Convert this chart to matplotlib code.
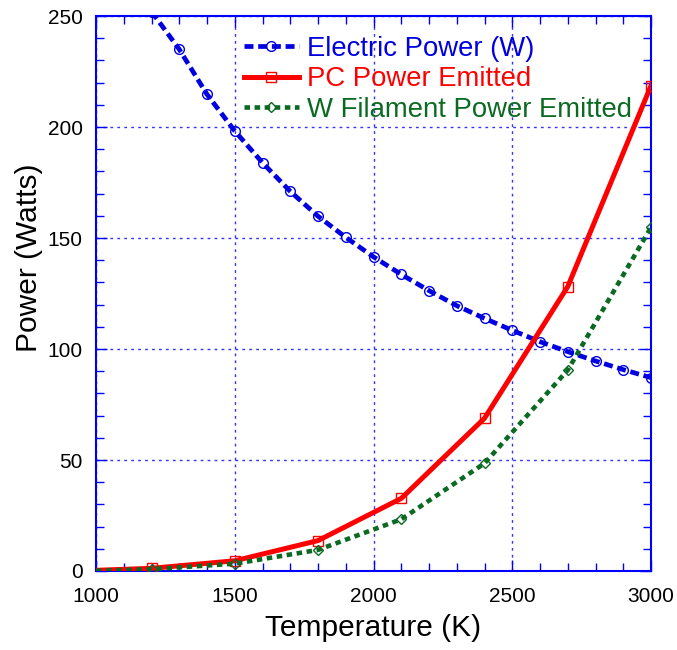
import numpy as np
import matplotlib
matplotlib.use("Agg")
import matplotlib.pyplot as plt
from matplotlib.ticker import MultipleLocator

plt.rcParams['font.family'] = ['Liberation Sans', 'DejaVu Sans']

# filament temperature (K) and power figures
temp_elec = [1200, 1300, 1400, 1500, 1600, 1700, 1800, 1900, 2000, 2100,
             2200, 2300, 2400, 2500, 2600, 2700, 2800, 2900, 3000]
p_elec = [252, 235, 214.7, 198.2, 183.9, 171.0, 159.8, 150.3, 141.5, 133.6,
          126.3, 119.5, 113.8, 108.4, 103.3, 98.8, 94.6, 90.7, 87.1]

temp_emit = [1000, 1200, 1500, 1800, 2100, 2400, 2700, 3000]
p_pc = [0.3, 1.2, 4.6, 13.7, 32.7, 68.8, 128.1, 218.6]
p_wfil = [0.1, 0.8, 3.3, 9.5, 23.3, 48.5, 90.5, 154.8]

blue = '#0000e0'
red = '#ff0000'
green = '#0b6a22'

fig = plt.figure(figsize=(6.77, 6.5), dpi=100)
ax = fig.add_axes([96 / 677, 1 - 571 / 650, 555 / 677, 555 / 650])

ax.plot(temp_elec, p_elec, color=blue, lw=3.4, dashes=(1.9, 1.0),
        marker='o', ms=7, mfc='none', mec=blue, mew=1.0,
        label='Electric Power (W)', zorder=3)
ax.plot(temp_emit, p_pc, color=red, lw=3.6, marker='s', ms=7.2,
        mfc='none', mec=red, mew=1.0, markevery=slice(1, None),
        label='PC Power Emitted', zorder=3)
ax.plot(temp_emit, p_wfil, color=green, lw=3.3, dashes=(1.2, 1.0),
        marker='D', ms=5, mfc='none', mec=green, mew=1.0,
        markevery=slice(1, None), label='W Filament Power Emitted', zorder=3)

ax.set_xlim(1000, 3000)
ax.set_ylim(0, 250)
ax.xaxis.set_major_locator(MultipleLocator(500))
ax.xaxis.set_minor_locator(MultipleLocator(100))
ax.yaxis.set_major_locator(MultipleLocator(50))
ax.yaxis.set_minor_locator(MultipleLocator(10))

ax.grid(True, which='major', color='#0000ff', lw=1.0, ls=(0, (2, 3)), alpha=0.8)
ax.tick_params(which='both', direction='in', top=True, right=True,
               color='#0000ff', labelsize=15, labelcolor='black')
ax.tick_params(axis='x', pad=11.5)
ax.tick_params(axis='y', pad=9.5)
ax.tick_params(which='major', length=8, width=1)
ax.tick_params(which='minor', length=5.5, width=1)
for sp in ax.spines.values():
    sp.set_color('#0000ff')
    sp.set_linewidth(1.5)

ax.set_xlabel('Temperature (K)', fontsize=21.5)
ax.set_ylabel('Power (Watts)', fontsize=21.5)
ax.xaxis.set_label_coords(0.5, -0.0775)
ax.yaxis.set_label_coords(-0.095, 0.564)

leg = ax.legend(loc='upper left', bbox_to_anchor=(0.246, 0.984), frameon=False,
                fontsize=19.8, handlelength=2.0, handletextpad=0.3,
                labelspacing=0.16, borderaxespad=0)
for txt, c in zip(leg.get_texts(), [blue, red, green]):
    txt.set_color(c)

fig.savefig('out.png', dpi=100)
